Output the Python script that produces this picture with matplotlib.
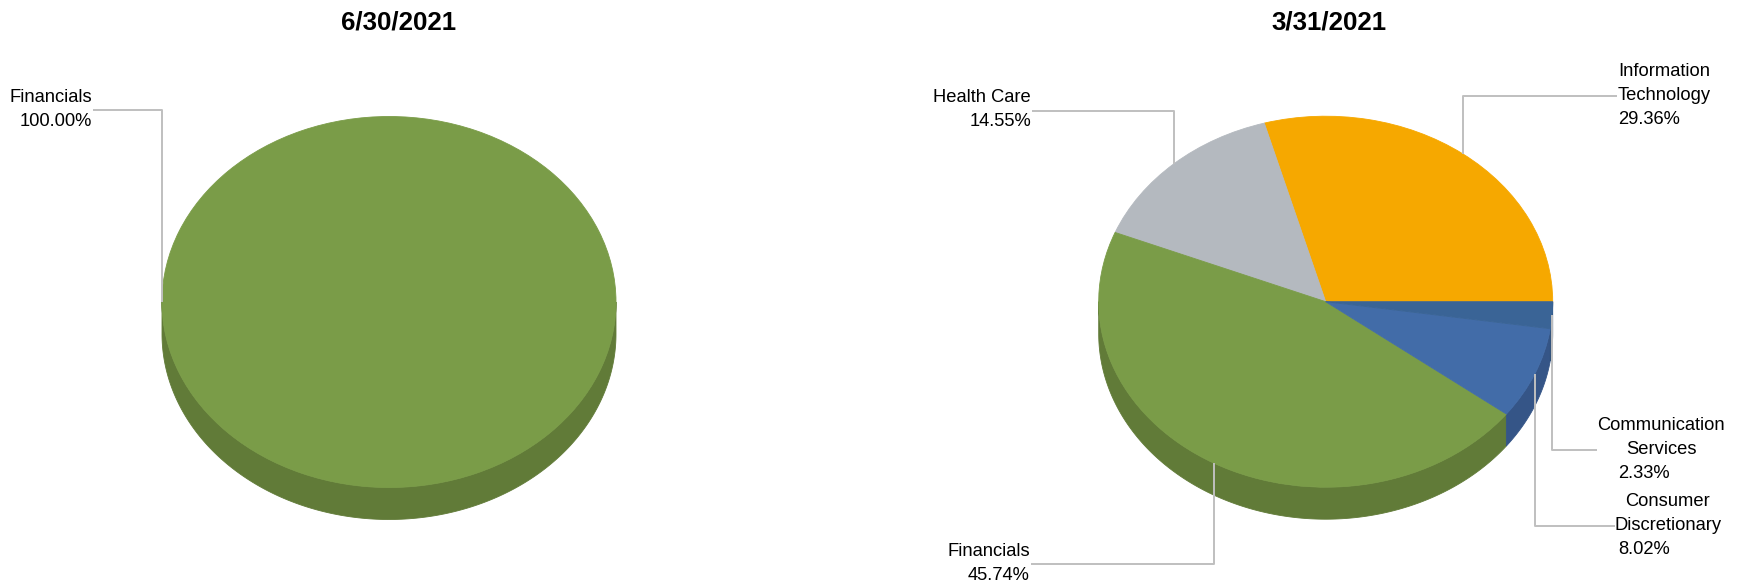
import numpy as np
import matplotlib
matplotlib.use("Agg")
import matplotlib.pyplot as plt
from matplotlib.patches import Wedge
from matplotlib.transforms import Affine2D

# --- data (percent of portfolio by sector) ---
dates = ["6/30/2021", "3/31/2021"]
sectors_jun = ["Financials"]
weights_jun = [100.00]
sectors_mar = ["Information\nTechnology", "Health Care", "Financials",
               "Consumer\nDiscretionary", "Communication\nServices"]
weights_mar = [29.36, 14.55, 45.74, 8.02, 2.33]

# sector -> (top face, side wall)
COLORS = {
    "Information\nTechnology": ("#F6A800", "#C48600"),
    "Health Care": ("#B4B9BF", "#8F949A"),
    "Financials": ("#7A9C48", "#617B38"),
    "Consumer\nDiscretionary": ("#426CA8", "#355587"),
    "Communication\nServices": ("#3A6496", "#2F5079"),
}

# geometry in pixels (y measured from top)
W, H = 1739, 586
RX, RY, DEPTH = 227, 185.5, 32
CENTERS = [(389, 302), (1325.7, 301.7)]
TITLE_X = [399, 1329]

# label layout: name anchor x / align, first line y, pct anchor, leader y, leader end x
LAYOUT = [
    {"Financials": dict(x=92, ha="right", y0=96, px=92, pha="right", ly=110, lx=93)},
    {
        "Information\nTechnology": dict(x=1618, ha="left", y0=70, px=1618, pha="left", ly=96, lx=1617),
        "Health Care": dict(x=1031, ha="right", y0=96, px=1031, pha="right", ly=110.7, lx=1032),
        "Financials": dict(x=1030, ha="right", y0=550, px=1030, pha="right", ly=564, lx=1031),
        "Consumer\nDiscretionary": dict(x=1668, ha="center", y0=500, px=1618, pha="left", ly=525.7, lx=1615),
        "Communication\nServices": dict(x=1661, ha="center", y0=424, px=1618, pha="left", ly=450, lx=1597),
    },
]
LINE_STEP = 24
FONT = "Liberation Sans"
LEADER = "#BFBFBF"


def draw_pie(ax, sectors, weights, center, layout):
    cx, cy = center
    bounds = np.concatenate([[0], np.cumsum(weights)]) / np.sum(weights) * 360.0
    tr = Affine2D().scale(RX, -RY).translate(cx, cy) + ax.transData

    # side walls: only the front half (180..360 deg) is visible
    for name, a, b in zip(sectors, bounds[:-1], bounds[1:]):
        lo, hi = max(a, 180.0), min(b, 360.0)
        if hi <= lo:
            continue
        t = np.radians(np.linspace(lo, hi, 200))
        xs = cx + RX * np.cos(t)
        ys = cy - RY * np.sin(t)
        px = np.concatenate([xs, xs[::-1]])
        py = np.concatenate([ys, ys[::-1] + DEPTH])
        side = COLORS[name][1]
        ax.fill(px, py, color=side, lw=0.6, ec=side, zorder=1)

    # top faces
    for name, a, b in zip(sectors, bounds[:-1], bounds[1:]):
        top = COLORS[name][0]
        w = Wedge((0, 0), 1, a, b, fc=top, ec=top, lw=0.6, transform=tr, zorder=2)
        ax.add_patch(w)

    # labels with elbow leader lines
    for name, wt, a, b in zip(sectors, weights, bounds[:-1], bounds[1:]):
        lay = layout[name]
        mid = np.radians((a + b) / 2)
        ax_ = cx + RX * np.cos(mid)
        ay_ = cy - RY * np.sin(mid)
        ax.plot([ax_, ax_, lay["lx"]], [ay_, lay["ly"], lay["ly"]],
                color=LEADER, lw=1.4, zorder=3, solid_capstyle="butt")
        lines = name.split("\n")
        for i, ln in enumerate(lines):
            ax.text(lay["x"], lay["y0"] + i * LINE_STEP + 6, ln, ha=lay["ha"],
                    va="baseline", fontsize=13.2, family=FONT, color="black")
        ax.text(lay["px"], lay["y0"] + len(lines) * LINE_STEP + 6, f"{wt:.2f}%",
                ha=lay["pha"], va="baseline", fontsize=13.2, family=FONT, color="black")


fig = plt.figure(figsize=(W / 100, H / 100), dpi=100)
ax = fig.add_axes([0, 0, 1, 1])
ax.set_xlim(0, W)
ax.set_ylim(H, 0)
ax.axis("off")

pies = [(sectors_jun, weights_jun), (sectors_mar, weights_mar)]
for k, (sec, wts) in enumerate(pies):
    draw_pie(ax, sec, wts, CENTERS[k], LAYOUT[k])
    ax.text(TITLE_X[k], 29.5, dates[k], ha="center", va="baseline",
            fontsize=18.6, fontweight="bold", family=FONT)

fig.savefig("out.png", dpi=100)
